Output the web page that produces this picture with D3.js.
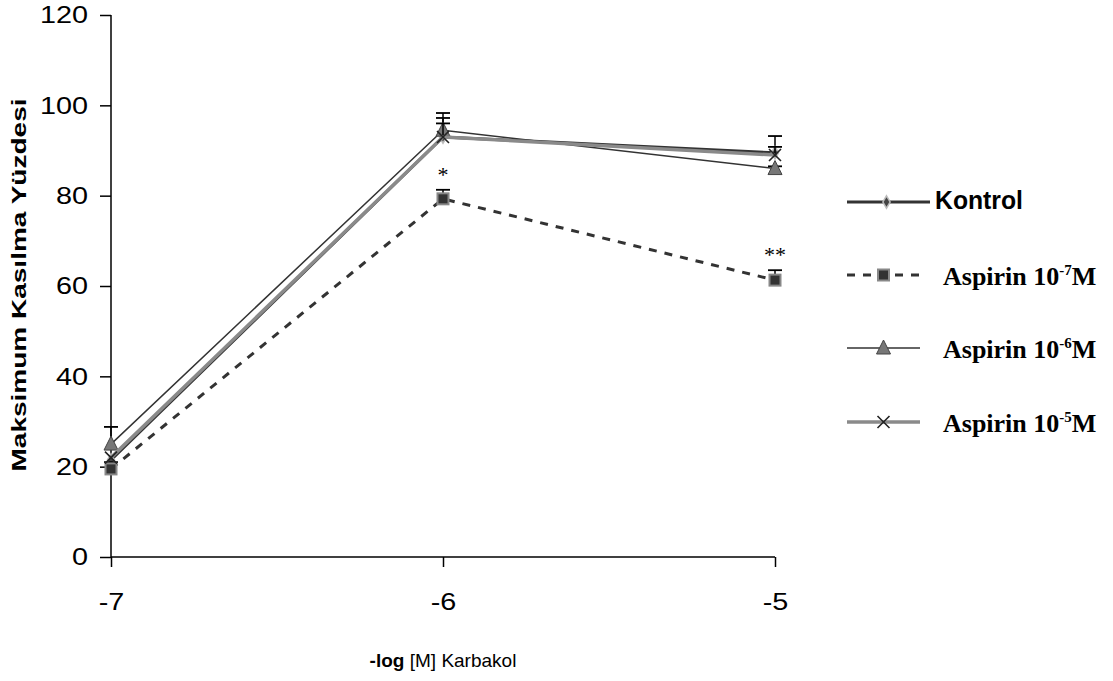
<!DOCTYPE html>
<html>
<head>
<meta charset="utf-8">
<script src="https://cdn.jsdelivr.net/npm/d3@7"></script>
<style>
  body { margin: 0; background: #fff; }
  svg { display: block; }
</style>
</head>
<body>
<svg id="chart"></svg>
<script>
// data
const doses = [-7, -6, -5];
const kontrol = [21.5, 93, 89.5];
const kontrolErr = [0, 5.3, 3.7];
const asp7 = [19.5, 79.3, 61.3];
const asp7Err = [1.5, 2, 2.2];
const asp6 = [25, 94.5, 86];
const asp6Err = [3.8, 2.7, 0.5];
const asp5 = [22, 93, 89];
const asp5Err = [0, 3, 1.8];
const stars = ["", "*", "**"]; // over Aspirin 10-7M
const yTicks = [0, 20, 40, 60, 80, 100, 120];

const width = 1113, height = 681;
const margin = { top: 15, left: 111 };
const plotW = 664, plotH = 542;
const sans = "Liberation Sans, Arial, sans-serif";
const serif = "Liberation Serif, Times New Roman, serif";

const svg = d3.select("#chart").attr("width", width).attr("height", height);

const x = d3.scaleLinear().domain([-7, -5]).range([margin.left, margin.left + plotW]);
const y = d3.scaleLinear().domain([0, 120]).range([margin.top + plotH, margin.top]);

// axes
const yAxis = svg.append("g")
  .attr("transform", `translate(${margin.left},0)`)
  .call(d3.axisLeft(y).tickValues(yTicks).tickSize(11).tickPadding(12));
const xAxis = svg.append("g")
  .attr("transform", `translate(0,${margin.top + plotH})`)
  .call(d3.axisBottom(x).tickValues(doses).tickSize(10).tickPadding(26).tickFormat((d) => String(d)));

[xAxis, yAxis].forEach((g) => {
  g.attr("font-size", null).attr("font-family", null);
  g.select(".domain").attr("stroke", "#000").attr("stroke-width", 1.5);
  g.selectAll(".tick line").attr("stroke", "#000").attr("stroke-width", 1.5);
  g.selectAll("text")
    .attr("fill", "#000")
    .style("font-family", sans)
    .style("font-size", "24px")
    .each(function () {
      // labels in the figure are a bit wider than the font
      d3.select(this)
        .attr("textLength", this.getComputedTextLength() * 1.2)
        .attr("lengthAdjust", "spacingAndGlyphs");
    });
});
xAxis.select(".domain").attr("d", `M${x(-7)},0H${x(-5)}`);
yAxis.select(".domain").attr("d", `M0,${y(120)}V${y(0)}`);

// axis titles
svg.append("text")
  .attr("transform", `translate(26,${y(60) - 1}) rotate(-90)`)
  .attr("text-anchor", "middle")
  .attr("textLength", 373)
  .attr("lengthAdjust", "spacingAndGlyphs")
  .style("font-family", sans)
  .style("font-size", "21px")
  .style("font-weight", "bold")
  .text("Maksimum Kasılma Yüzdesi");

const xt = svg.append("text")
  .attr("x", x(-6))
  .attr("y", 667)
  .attr("text-anchor", "middle")
  .style("font-family", sans)
  .style("font-size", "19px");
xt.append("tspan").style("font-weight", "bold").text("-log");
xt.append("tspan").text(" [M] Karbakol");

// series definitions
const series = [
  { name: "Kontrol", values: kontrol, err: kontrolErr, color: "#333", width: 3, dash: null, marker: "diamond" },
  { name: "Aspirin 10", sup: "-7", values: asp7, err: asp7Err, color: "#333", width: 3, dash: "8,8", marker: "square" },
  { name: "Aspirin 10", sup: "-6", values: asp6, err: asp6Err, color: "#333", width: 1.5, dash: null, marker: "triangle" },
  { name: "Aspirin 10", sup: "-5", values: asp5, err: asp5Err, color: "#8a8a8a", width: 3.5, dash: null, marker: "cross" },
];

const line = d3.line().x((d) => x(d.x)).y((d) => y(d.y));

function drawMarker(g, type, cx, cy) {
  if (type === "diamond") {
    g.append("path")
      .attr("d", d3.symbol(d3.symbolDiamond, 45)())
      .attr("transform", `translate(${cx},${cy})`)
      .attr("fill", "#444").attr("stroke", "#bbb").attr("stroke-width", 1.5);
  } else if (type === "square") {
    g.append("rect")
      .attr("x", cx - 5.5).attr("y", cy - 5.5).attr("width", 11).attr("height", 11)
      .attr("fill", "#333").attr("stroke", "#888").attr("stroke-width", 2);
  } else if (type === "triangle") {
    g.append("path")
      .attr("d", `M${cx},${cy - 8}L${cx + 7},${cy + 6}L${cx - 7},${cy + 6}Z`)
      .attr("fill", "#777").attr("stroke", "#444").attr("stroke-width", 1);
  } else if (type === "cross") {
    g.append("path")
      .attr("d", `M${cx - 6},${cy - 6}L${cx + 6},${cy + 6}M${cx + 6},${cy - 6}L${cx - 6},${cy + 6}`)
      .attr("stroke", "#222").attr("stroke-width", 1.6).attr("fill", "none");
  }
}

const plot = svg.append("g");

series.forEach((s) => {
  const pts = doses.map((d, i) => ({ x: d, y: s.values[i], e: s.err[i] }));
  const g = plot.append("g");

  // upper error bars
  pts.filter((p) => p.e > 0).forEach((p) => {
    g.append("line")
      .attr("x1", x(p.x)).attr("x2", x(p.x))
      .attr("y1", y(p.y)).attr("y2", y(p.y + p.e))
      .attr("stroke", "#000").attr("stroke-width", 1.5);
    g.append("line")
      .attr("x1", x(p.x) - 7).attr("x2", x(p.x) + 7)
      .attr("y1", y(p.y + p.e)).attr("y2", y(p.y + p.e))
      .attr("stroke", "#000").attr("stroke-width", 1.8);
  });

  g.append("path")
    .datum(pts)
    .attr("d", line)
    .attr("fill", "none")
    .attr("stroke", s.color)
    .attr("stroke-width", s.width)
    .attr("stroke-dasharray", s.dash);

  pts.forEach((p) => drawMarker(g, s.marker, x(p.x), y(p.y)));
});

// significance stars
doses.forEach((d, i) => {
  if (!stars[i]) return;
  svg.append("text")
    .attr("x", x(d))
    .attr("y", y(asp7[i] + asp7Err[i]) - 8)
    .attr("text-anchor", "middle")
    .style("font-family", serif)
    .style("font-size", "22px")
    .text(stars[i]);
});

// legend
const legendY = [202, 275, 348, 422];
series.forEach((s, i) => {
  const g = svg.append("g").attr("transform", `translate(0,${legendY[i]})`);
  const x1 = 847, x2 = i === 0 ? 930 : 920;
  g.append("line")
    .attr("x1", x1).attr("x2", x2).attr("y1", 0).attr("y2", 0)
    .attr("stroke", s.color).attr("stroke-width", s.width)
    .attr("stroke-dasharray", s.dash);
  drawMarker(g, s.marker, (x1 + x2) / 2 - (i === 0 ? 2 : 0), 0);
  if (i === 0) {
    g.append("text")
      .attr("x", 935).attr("y", 7)
      .attr("textLength", 88)
      .attr("lengthAdjust", "spacingAndGlyphs")
      .style("font-family", sans)
      .style("font-size", "26px").style("font-weight", "bold")
      .text(s.name);
  } else {
    const t = g.append("text")
      .attr("x", 943).attr("y", 10)
      .style("font-family", serif)
      .style("font-size", "26px").style("font-weight", "bold");
    t.append("tspan").text(s.name);
    t.append("tspan").attr("dy", -10).style("font-size", "15px").text(s.sup);
    t.append("tspan").attr("dy", 10).text("M");
  }
});
</script>
</body>
</html>
